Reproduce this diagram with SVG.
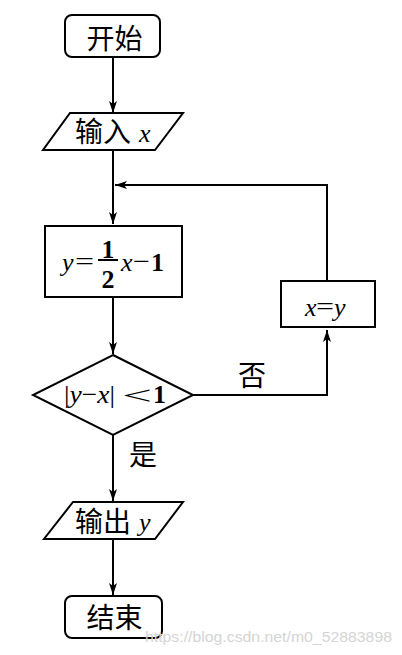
<svg xmlns="http://www.w3.org/2000/svg" width="402" height="655" viewBox="0 0 402 655">
<style>
.s{fill:#fff;stroke:#000;stroke-width:2}
.c{fill:none;stroke:#000;stroke-width:2}
.cn{font-family:"Noto Sans CJK SC",sans-serif;font-size:28px;font-weight:400;fill:#000}
.m{font-family:"Liberation Serif",serif;font-size:26px;fill:#000}
.i{font-style:italic}
.b{font-weight:bold}
</style>
<defs>
<marker id="a" viewBox="0 0 12 8" refX="12" refY="4" markerWidth="12" markerHeight="8" markerUnits="userSpaceOnUse" orient="auto">
<path d="M0,0 L12,4 L0,8 L3,4 z" fill="#000"/>
</marker>
</defs>
<g id="connectors">
<line class="c" x1="113" y1="57" x2="113" y2="113" marker-end="url(#a)"/>
<line class="c" x1="113" y1="150" x2="113" y2="224" marker-end="url(#a)"/>
<line class="c" x1="113" y1="297" x2="113" y2="354" marker-end="url(#a)"/>
<line class="c" x1="113" y1="435" x2="113" y2="501" marker-end="url(#a)"/>
<line class="c" x1="113" y1="539" x2="113" y2="595" marker-end="url(#a)"/>
<polyline class="c" points="193,395 327,395 327,330" marker-end="url(#a)"/>
<polyline class="c" points="327,281 327,185 115,185" marker-end="url(#a)"/>
<text class="cn" x="252" y="386" text-anchor="middle">否</text>
<text class="cn" x="143" y="465" text-anchor="middle">是</text>
</g>
<g id="start">
<rect class="s" x="65" y="15" width="95" height="42" rx="7"/>
<text class="cn" x="114.5" y="49" text-anchor="middle">开始</text>
</g>
<g id="input">
<polygon class="s" points="70,113 183,113 155,150 43,150"/>
<text class="cn" x="75" y="142">输入</text>
<text class="m i" x="139" y="142">x</text>
</g>
<g id="process">
<rect class="s" x="45" y="226" width="137" height="71"/>
<text class="m i" x="62" y="271">y</text>
<text class="m" x="75" y="270" textLength="19" lengthAdjust="spacingAndGlyphs">=</text>
<text class="m b" x="108" y="258" text-anchor="middle">1</text>
<line x1="98" y1="260" x2="118" y2="260" stroke="#000" stroke-width="2"/>
<text class="m b" x="108" y="288" text-anchor="middle">2</text>
<text class="m i" x="121" y="271">x</text>
<text class="m" x="133" y="270" textLength="17" lengthAdjust="spacingAndGlyphs">−</text>
<text class="m b" x="151" y="271">1</text>
</g>
<g id="decision">
<polygon class="s" points="113,355 193,395 113,435 33,395"/>
<text class="m" x="64" y="403" textLength="51" lengthAdjust="spacingAndGlyphs">|<tspan class="i">y</tspan>−<tspan class="i">x</tspan>|</text>
<text class="m" x="122" y="404" textLength="30" lengthAdjust="spacingAndGlyphs">&lt;</text>
<text class="m b" x="153" y="403">1</text>
</g>
<g id="assign">
<rect class="s" x="281" y="281" width="94" height="46"/>
<text class="m i" x="305" y="316">x</text>
<text class="m" x="316" y="315" textLength="18" lengthAdjust="spacingAndGlyphs">=</text>
<text class="m i" x="334" y="316">y</text>
</g>
<g id="output">
<polygon class="s" points="73,502 183,502 155,539 44,539"/>
<text class="cn" x="75" y="532">输出</text>
<text class="m i" x="139" y="531">y</text>
</g>
<g id="end">
<rect class="s" x="65" y="596" width="97" height="42" rx="7"/>
<text class="cn" x="114.5" y="628" text-anchor="middle">结束</text>
</g>
<text x="145" y="642" textLength="247" lengthAdjust="spacingAndGlyphs" font-family="Liberation Sans,sans-serif" font-size="15" fill="#d4d4d4">https://blog.csdn.net/m0_52883898</text>
</svg>
